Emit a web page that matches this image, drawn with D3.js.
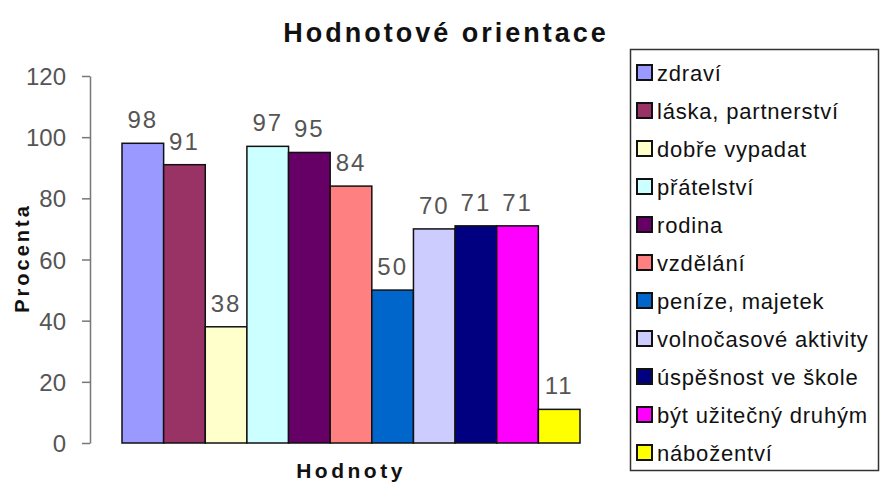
<!DOCTYPE html>
<html>
<head>
<meta charset="utf-8">
<script src="https://cdn.jsdelivr.net/npm/d3@7"></script>
<style>
  body { margin: 0; background: #fff; }
  svg text { font-family: "Liberation Sans", Arial, sans-serif; }
</style>
</head>
<body>
<svg id="chart"></svg>
<script>
// data
const labels = ["zdraví", "láska, partnerství", "dobře vypadat", "přátelství", "rodina", "vzdělání",
  "peníze, majetek", "volnočasové aktivity", "úspěšnost ve škole", "být užitečný druhým", "nábožentví"];
const values = [98, 91, 38, 97, 95, 84, 50, 70, 71, 71, 11];
const colors = ["#9999ff", "#993366", "#ffffcc", "#ccffff", "#660066", "#ff8080",
  "#0066cc", "#ccccff", "#000080", "#ff00ff", "#ffff00"];
const yTicks = [0, 20, 40, 60, 80, 100, 120];

const width = 880, height = 482;
const svg = d3.select("#chart").attr("width", width).attr("height", height);

// plot area
const axisX = 90, barsLeft = 122, barsRight = 580;
let y = d3.scaleLinear().domain([0, 120]).range([443, 76]);
let x = d3.scaleBand().domain(labels).range([barsLeft, barsRight]).padding(0);

// title
svg.append("text")
  .attr("x", 446).attr("y", 42)
  .attr("text-anchor", "middle")
  .attr("font-size", 27).attr("font-weight", "bold")
  .attr("letter-spacing", 3)
  .attr("fill", "#111")
  .text("Hodnotové orientace");

// y axis
let yAxis = svg.append("g")
  .attr("transform", "translate(" + axisX + ",0)")
  .call(d3.axisLeft(y).tickValues(yTicks).tickSize(8).tickSizeOuter(0).tickPadding(16));
yAxis.select(".domain").attr("stroke", "#777").attr("stroke-width", 1.5);
yAxis.selectAll(".tick line").attr("stroke", "#777").attr("stroke-width", 1.5);
yAxis.selectAll(".tick text")
  .attr("font-family", "'Liberation Sans', sans-serif")
  .attr("font-size", 24)
  .attr("fill", "#555")
  .attr("dy", "0.36em");

// bars
svg.append("g").selectAll("rect")
  .data(values)
  .enter()
  .append("rect")
  .attr("x", (d, i) => x(labels[i]))
  .attr("y", (d) => y(d))
  .attr("width", x.bandwidth())
  .attr("height", (d) => y(0) - y(d))
  .attr("fill", (d, i) => colors[i])
  .attr("stroke", "#111")
  .attr("stroke-width", 1.5);

// value labels
svg.append("g").selectAll("text")
  .data(values)
  .enter()
  .append("text")
  .attr("x", (d, i) => x(labels[i]) + x.bandwidth() / 2)
  .attr("y", (d) => y(d) - 15)
  .attr("text-anchor", "middle")
  .attr("font-size", 24)
  .attr("letter-spacing", 2)
  .attr("fill", "#555")
  .text((d) => d);

// axis titles
svg.append("text")
  .attr("transform", "translate(29,258) rotate(-90)")
  .attr("text-anchor", "middle")
  .attr("font-size", 20).attr("font-weight", "bold")
  .attr("letter-spacing", 3)
  .attr("fill", "#111")
  .text("Procenta");

svg.append("text")
  .attr("x", (barsLeft + barsRight) / 2).attr("y", 478)
  .attr("text-anchor", "middle")
  .attr("font-size", 21).attr("font-weight", "bold")
  .attr("letter-spacing", 3.5)
  .attr("fill", "#111")
  .text("Hodnoty");

// legend
let legend = svg.append("g");
legend.append("rect")
  .attr("x", 630.5).attr("y", 49.5)
  .attr("width", 248).attr("height", 421)
  .attr("fill", "none").attr("stroke", "#333").attr("stroke-width", 1.5);

let items = legend.selectAll("g.item")
  .data(labels)
  .enter()
  .append("g")
  .attr("class", "item")
  .attr("transform", (d, i) => "translate(0," + (73 + i * 38) + ")");

items.append("rect")
  .attr("x", 637).attr("y", -8)
  .attr("width", 15).attr("height", 15)
  .attr("fill", (d, i) => colors[i])
  .attr("stroke", "#111").attr("stroke-width", 2);

items.append("text")
  .attr("x", 657).attr("y", 0)
  .attr("dy", "0.36em")
  .attr("font-size", 22)
  .attr("letter-spacing", 0.8)
  .attr("fill", "#111")
  .text((d) => d);
</script>
</body>
</html>
